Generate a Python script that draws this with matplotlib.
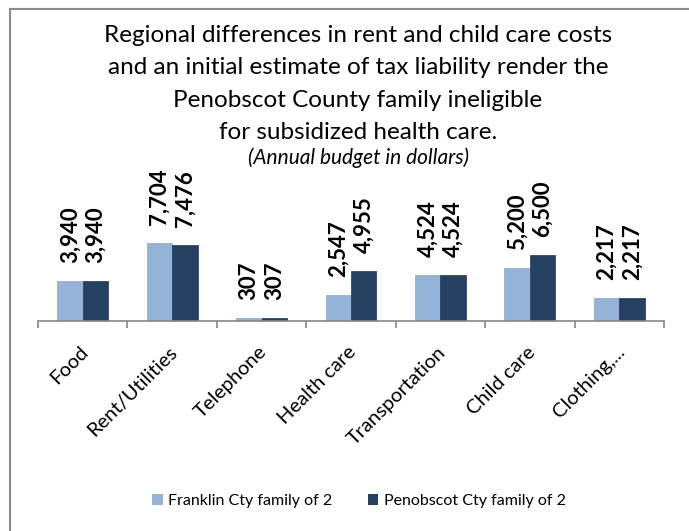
import matplotlib
matplotlib.use("Agg")
import matplotlib.pyplot as plt
from matplotlib.patches import Patch
from matplotlib.lines import Line2D
from matplotlib.transforms import blended_transform_factory, offset_copy

categories = ["Food", "Rent/Utilities", "Telephone", "Health care",
              "Transportation", "Child care", "Clothing,..."]
franklin = [3940, 7704, 307, 2547, 4524, 5200, 2217]
penobscot = [3940, 7476, 307, 4955, 4524, 6500, 2217]
series_names = ["Franklin Cty family of 2", "Penobscot Cty family of 2"]
title_lines = ["Regional differences in rent and child care costs",
               "and an initial estimate of tax liability render the",
               "Penobscot County family ineligible",
               "for subsidized health care."]
subtitle = "(Annual budget in dollars)"

plt.rcParams['font.family'] = ['Lato', 'DejaVu Sans']

W, H = 689, 531
fig = plt.figure(figsize=(W / 100, H / 100), dpi=100)

def fx(px):
    return px / W

def fy(py):
    return 1 - py / H

# axes placement (pixels)
ax_left, ax_right, ax_bottom, ax_top = 38, 664, 321, 171
ax = fig.add_axes([fx(ax_left), fy(ax_bottom), fx(ax_right - ax_left),
                   (ax_bottom - ax_top) / H])

c_light = "#95B3D7"
c_dark = "#254061"
bw = 0.285
x = list(range(len(categories)))
b1 = ax.bar([i - bw / 2 for i in x], franklin, width=bw, color=c_light,
            edgecolor="#8AA8CC", linewidth=0.5)
b2 = ax.bar([i + bw / 2 for i in x], penobscot, width=bw, color=c_dark,
            edgecolor="#1F3756", linewidth=0.5)

ax.set_xlim(-0.5, len(categories) - 0.5)
ax.set_ylim(0, 150 * 98.4)

for bars, vals in ((b1, franklin), (b2, penobscot)):
    for rect, v in zip(bars, vals):
        ax.annotate(f"{v:,}", (rect.get_x() + rect.get_width() / 2, rect.get_height()),
                    xytext=(0, 13), textcoords="offset points",
                    rotation=90, ha="center", va="bottom",
                    fontsize=16, fontweight="bold", color="black")

for s in ("top", "right", "left"):
    ax.spines[s].set_visible(False)
ax.spines["bottom"].set_color("#868686")
ax.spines["bottom"].set_linewidth(1.2)
ax.set_yticks([])
ax.set_xticks([i - 0.5 for i in range(len(categories) + 1)])
ax.set_xticklabels([])
ax.tick_params(axis="x", direction="out", length=5, width=1.2, color="#868686")

trans = blended_transform_factory(ax.transData, ax.transAxes)
for i, lab in enumerate(categories):
    t = offset_copy(trans, fig=fig, x=-2.5, y=-16, units="points")
    ax.text(i, 0, lab, transform=t, rotation=45, ha="right", va="top",
            rotation_mode="anchor", fontsize=14.5, color="black")

# title
cx = fx(358)
baselines = [42, 74, 107, 139]
for yb, line in zip(baselines, title_lines):
    fig.text(cx, fy(yb), line, ha="center", va="baseline", fontsize=17.5,
             color="black")
fig.text(cx, fy(164), subtitle, ha="center", va="baseline", fontsize=15,
         style="italic", color="black")

# legend
handles = [Patch(facecolor=c_light, edgecolor="none"),
           Patch(facecolor=c_dark, edgecolor="none")]
fig.legend(handles, series_names, loc="center", bbox_to_anchor=(fx(359), fy(501)),
           ncol=2, frameon=False, fontsize=11.5, handlelength=0.65,
           handleheight=0.65, handletextpad=0.35, columnspacing=2.2)

# chart-area border (left and top visible)
fig.add_artist(Line2D([fx(10), fx(10)], [fy(9), 0], transform=fig.transFigure,
                      color="#8C8C8C", linewidth=1.5))
fig.add_artist(Line2D([fx(10), 1], [fy(9), fy(9)], transform=fig.transFigure,
                      color="#8C8C8C", linewidth=1.5))

fig.savefig("out.png", dpi=100, facecolor="white")
